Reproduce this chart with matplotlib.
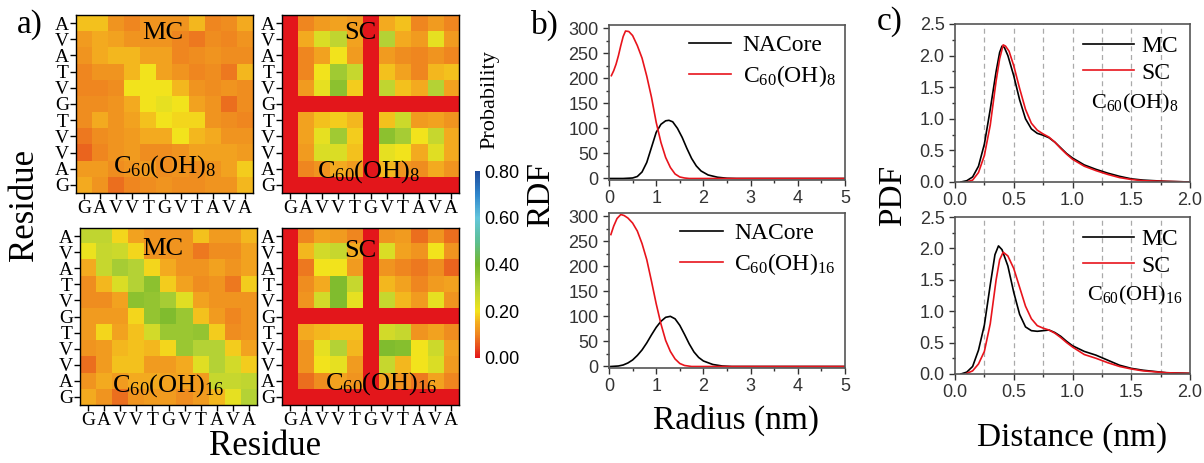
import numpy as np
import matplotlib
matplotlib.use("Agg")
import matplotlib.pyplot as plt
from matplotlib.colors import LinearSegmentedColormap
from matplotlib.ticker import MultipleLocator

plt.rcParams['font.family'] = ['Liberation Serif', 'DejaVu Serif']
plt.rcParams['mathtext.fontset'] = 'custom'
plt.rcParams['mathtext.rm'] = 'Liberation Serif'
plt.rcParams['mathtext.it'] = 'Liberation Serif:italic'
plt.rcParams['mathtext.default'] = 'rm'

# ---- data ----
residues_x = ['G', 'A', 'V', 'V', 'T', 'G', 'V', 'T', 'A', 'V', 'A']
residues_y = residues_x[::-1]   # rows listed top to bottom

# contact probability maps, rows from top (A) to bottom (G)
mc_oh8 = [
    [0.17, 0.17, 0.12, 0.10, 0.12, 0.12, 0.12, 0.16, 0.10, 0.11, 0.15],
    [0.13, 0.15, 0.14, 0.12, 0.12, 0.12, 0.10, 0.09, 0.11, 0.10, 0.12],
    [0.12, 0.15, 0.16, 0.16, 0.14, 0.14, 0.10, 0.11, 0.12, 0.11, 0.11],
    [0.10, 0.12, 0.12, 0.16, 0.20, 0.14, 0.12, 0.10, 0.11, 0.09, 0.16],
    [0.10, 0.10, 0.11, 0.20, 0.20, 0.20, 0.16, 0.12, 0.11, 0.12, 0.11],
    [0.11, 0.11, 0.12, 0.15, 0.20, 0.22, 0.20, 0.14, 0.12, 0.08, 0.11],
    [0.11, 0.15, 0.12, 0.14, 0.17, 0.20, 0.19, 0.19, 0.12, 0.11, 0.10],
    [0.09, 0.11, 0.12, 0.13, 0.15, 0.15, 0.20, 0.16, 0.15, 0.12, 0.12],
    [0.07, 0.10, 0.12, 0.13, 0.11, 0.11, 0.12, 0.14, 0.14, 0.14, 0.13],
    [0.13, 0.13, 0.11, 0.12, 0.13, 0.11, 0.12, 0.11, 0.12, 0.14, 0.18],
    [0.15, 0.12, 0.08, 0.10, 0.11, 0.12, 0.11, 0.11, 0.12, 0.12, 0.16],
]
sc_oh8 = [
    [0, 0.10, 0.13, 0.14, 0.13, 0, 0.15, 0.17, 0.10, 0.13, 0.10],
    [0, 0.15, 0.24, 0.28, 0.14, 0, 0.30, 0.15, 0.13, 0.22, 0.13],
    [0, 0.10, 0.14, 0.20, 0.13, 0, 0.13, 0.11, 0.10, 0.12, 0.10],
    [0, 0.10, 0.20, 0.33, 0.27, 0, 0.17, 0.14, 0.10, 0.16, 0.17],
    [0, 0.13, 0.22, 0.36, 0.18, 0, 0.28, 0.17, 0.15, 0.30, 0.14],
    [0, 0, 0, 0, 0, 0, 0, 0, 0, 0, 0],
    [0, 0.14, 0.17, 0.18, 0.16, 0, 0.17, 0.26, 0.13, 0.14, 0.12],
    [0, 0.14, 0.22, 0.33, 0.18, 0, 0.36, 0.32, 0.20, 0.27, 0.15],
    [0, 0.13, 0.24, 0.24, 0.17, 0, 0.22, 0.20, 0.15, 0.23, 0.15],
    [0, 0.10, 0.12, 0.15, 0.13, 0, 0.16, 0.12, 0.11, 0.15, 0.12],
    [0, 0, 0, 0, 0, 0, 0, 0, 0, 0, 0],
]
mc_oh16 = [
    [0.28, 0.28, 0.19, 0.14, 0.12, 0.12, 0.12, 0.17, 0.13, 0.13, 0.16],
    [0.21, 0.27, 0.26, 0.19, 0.12, 0.12, 0.12, 0.09, 0.11, 0.11, 0.14],
    [0.15, 0.27, 0.32, 0.30, 0.19, 0.15, 0.12, 0.12, 0.14, 0.12, 0.14],
    [0.11, 0.16, 0.24, 0.30, 0.36, 0.18, 0.14, 0.11, 0.12, 0.09, 0.18],
    [0.11, 0.11, 0.14, 0.36, 0.35, 0.32, 0.23, 0.14, 0.12, 0.12, 0.12],
    [0.13, 0.13, 0.13, 0.19, 0.35, 0.38, 0.34, 0.17, 0.13, 0.10, 0.12],
    [0.13, 0.19, 0.14, 0.17, 0.25, 0.34, 0.34, 0.35, 0.18, 0.11, 0.12],
    [0.12, 0.13, 0.16, 0.17, 0.16, 0.19, 0.34, 0.30, 0.30, 0.18, 0.14],
    [0.08, 0.13, 0.17, 0.17, 0.13, 0.13, 0.15, 0.23, 0.30, 0.25, 0.18],
    [0.12, 0.15, 0.13, 0.15, 0.15, 0.14, 0.14, 0.13, 0.27, 0.27, 0.28],
    [0.15, 0.12, 0.08, 0.12, 0.13, 0.13, 0.11, 0.13, 0.16, 0.22, 0.30],
]
sc_oh16 = [
    [0, 0.10, 0.14, 0.13, 0.10, 0, 0.12, 0.13, 0.08, 0.12, 0.08],
    [0, 0.16, 0.25, 0.27, 0.15, 0, 0.24, 0.14, 0.12, 0.20, 0.12],
    [0, 0.09, 0.20, 0.20, 0.13, 0, 0.12, 0.10, 0.09, 0.11, 0.07],
    [0, 0.11, 0.15, 0.38, 0.27, 0, 0.16, 0.14, 0.10, 0.13, 0.14],
    [0, 0.12, 0.25, 0.38, 0.22, 0, 0.27, 0.16, 0.13, 0.22, 0.12],
    [0, 0, 0, 0, 0, 0, 0, 0, 0, 0, 0],
    [0, 0.15, 0.16, 0.17, 0.17, 0, 0.25, 0.27, 0.12, 0.14, 0.11],
    [0, 0.12, 0.22, 0.30, 0.16, 0, 0.38, 0.37, 0.20, 0.26, 0.14],
    [0, 0.12, 0.20, 0.22, 0.13, 0, 0.27, 0.16, 0.20, 0.24, 0.13],
    [0, 0.08, 0.11, 0.14, 0.12, 0, 0.14, 0.12, 0.09, 0.14, 0.10],
    [0, 0, 0, 0, 0, 0, 0, 0, 0, 0, 0],
]

# RDF curves (radius nm, RDF)
rdf8_core_x = [0, 0.3, 0.5, 0.6, 0.7, 0.8, 0.9, 1.0, 1.1, 1.2, 1.27, 1.35, 1.45, 1.55, 1.65, 1.75, 1.85, 1.95, 2.1, 2.3, 2.5, 2.7, 3, 4, 5]
rdf8_core_y = [0, 0, 1, 4, 13, 32, 62, 92, 108, 115, 116, 113, 100, 82, 60, 40, 25, 15, 7, 2.5, 0.5, 0, 0, 0, 0]
rdf8_c60_x = [0.05, 0.1, 0.15, 0.2, 0.25, 0.3, 0.35, 0.42, 0.5, 0.6, 0.7, 0.8, 0.9, 1.0, 1.1, 1.2, 1.3, 1.4, 1.5, 1.6, 1.7, 2, 3, 4, 5]
rdf8_c60_y = [205, 215, 228, 245, 265, 283, 294, 293, 285, 265, 240, 204, 162, 112, 72, 42, 22, 9, 3, 1, 0, 0, 0, 0, 0]
rdf16_core_x = [0.04, 0.2, 0.3, 0.4, 0.5, 0.6, 0.7, 0.8, 0.9, 1.0, 1.1, 1.2, 1.3, 1.4, 1.5, 1.6, 1.7, 1.8, 1.9, 2.0, 2.2, 2.4, 2.6, 3, 4, 5]
rdf16_core_y = [0, 1, 3, 7, 13, 22, 33, 47, 63, 78, 90, 98, 100, 95, 82, 64, 45, 29, 18, 11, 4, 1, 0, 0, 0, 0]
rdf16_c60_x = [0.04, 0.1, 0.17, 0.25, 0.32, 0.4, 0.5, 0.6, 0.7, 0.8, 0.9, 1.0, 1.1, 1.2, 1.3, 1.4, 1.5, 1.6, 1.75, 2, 3, 4, 5]
rdf16_c60_y = [263, 280, 295, 303, 301, 296, 286, 270, 245, 213, 170, 125, 85, 52, 30, 15, 6, 2, 0, 0, 0, 0, 0]

# PDF curves (distance nm, PDF)
pdf8_mc_x = [0.05, 0.1, 0.15, 0.2, 0.25, 0.3, 0.35, 0.38, 0.40, 0.42, 0.45, 0.5, 0.55, 0.6, 0.65, 0.7, 0.75, 0.8, 0.85, 0.9, 0.95, 1.0, 1.1, 1.2, 1.3, 1.4, 1.5, 1.6, 1.7, 1.8, 2.0]
pdf8_mc_y = [0, 0.02, 0.08, 0.25, 0.6, 1.15, 1.75, 2.05, 2.15, 2.13, 2.0, 1.68, 1.3, 1.0, 0.84, 0.77, 0.74, 0.70, 0.63, 0.54, 0.45, 0.38, 0.27, 0.2, 0.14, 0.09, 0.05, 0.03, 0.02, 0.01, 0]
pdf8_sc_x = [0.1, 0.15, 0.2, 0.25, 0.3, 0.35, 0.38, 0.41, 0.43, 0.46, 0.5, 0.55, 0.6, 0.65, 0.7, 0.75, 0.8, 0.85, 0.9, 0.95, 1.0, 1.1, 1.2, 1.3, 1.4, 1.5, 1.6, 1.8, 2.0]
pdf8_sc_y = [0, 0.03, 0.15, 0.42, 0.9, 1.6, 1.95, 2.17, 2.15, 2.07, 1.84, 1.48, 1.15, 0.93, 0.82, 0.76, 0.71, 0.63, 0.53, 0.44, 0.36, 0.25, 0.18, 0.12, 0.07, 0.04, 0.02, 0.01, 0]
pdf16_mc_x = [0.05, 0.1, 0.15, 0.2, 0.25, 0.3, 0.34, 0.37, 0.40, 0.45, 0.5, 0.55, 0.6, 0.65, 0.7, 0.75, 0.8, 0.85, 0.9, 0.95, 1.0, 1.1, 1.2, 1.3, 1.4, 1.5, 1.6, 1.7, 1.8, 2.0]
pdf16_mc_y = [0, 0.03, 0.12, 0.38, 0.78, 1.42, 1.9, 2.04, 1.98, 1.72, 1.3, 0.95, 0.75, 0.69, 0.68, 0.69, 0.70, 0.66, 0.60, 0.52, 0.45, 0.36, 0.30, 0.22, 0.14, 0.09, 0.06, 0.04, 0.02, 0.01]
pdf16_sc_x = [0.1, 0.15, 0.2, 0.25, 0.3, 0.35, 0.38, 0.41, 0.45, 0.5, 0.55, 0.6, 0.65, 0.7, 0.75, 0.8, 0.85, 0.9, 0.95, 1.0, 1.1, 1.2, 1.3, 1.4, 1.5, 1.6, 1.8, 2.0]
pdf16_sc_y = [0.01, 0.05, 0.16, 0.36, 0.8, 1.5, 1.82, 1.94, 1.88, 1.68, 1.38, 1.08, 0.88, 0.77, 0.73, 0.70, 0.65, 0.58, 0.50, 0.43, 0.31, 0.25, 0.18, 0.12, 0.08, 0.05, 0.02, 0.01]

cb_ticks = [0.0, 0.2, 0.4, 0.6, 0.8]

# ---- figure ----
W, H = 1204, 463
fig = plt.figure(figsize=(W / 100, H / 100), dpi=100)


def px_axes(x0, y0, x1, y1):
    # axes from pixel box (top-left origin)
    return fig.add_axes([x0 / W, 1 - y1 / H, (x1 - x0) / W, (y1 - y0) / H])


cmap = LinearSegmentedColormap.from_list('prob', [
    (0.0, '#e3161b'), (0.0625, '#e8501d'), (0.125, '#ef8620'),
    (0.1875, '#f4ac1f'), (0.25, '#f3e41c'),
    (0.375, '#b3d236'), (0.5, '#74b72c'), (0.625, '#5cbf94'),
    (0.75, '#64c6dc'), (0.875, '#2f86cc'), (1.0, '#1f4c9c')])

maps = [
    (mc_oh8, (76, 15, 253, 193), 'MC', 'C$_{60}$(OH)$_8$', (0.49, 0.9), (0.5, 0.15)),
    (sc_oh8, (282, 15, 459, 193), 'SC', 'C$_{60}$(OH)$_8$', (0.44, 0.9), (0.49, 0.12)),
    (mc_oh16, (80, 228, 257, 405), 'MC', 'C$_{60}$(OH)$_{16}$', (0.47, 0.88), (0.5, 0.11)),
    (sc_oh16, (282, 228, 459, 405), 'SC', 'C$_{60}$(OH)$_{16}$', (0.44, 0.87), (0.56, 0.12)),
]
for mat, box, lab, mol, lpos, mpos in maps:
    ax = px_axes(*box)
    im = ax.imshow(np.array(mat), cmap=cmap, vmin=0, vmax=0.8, aspect='auto')
    ax.set_xticks(range(11))
    ax.set_xticklabels(residues_x)
    ax.set_yticks(range(11))
    ax.set_yticklabels(residues_y)
    ax.tick_params(labelsize=14, length=4, width=1, pad=1)
    for s in ax.spines.values():
        s.set_linewidth(1.0)
    ax.text(*lpos, lab, transform=ax.transAxes, ha='center', va='center', fontsize=19)
    ax.text(*mpos, mol, transform=ax.transAxes, ha='center', va='center', fontsize=19)

cax = px_axes(475, 171, 480, 358)
cb = fig.colorbar(im, cax=cax, ticks=cb_ticks)
cb.outline.set_visible(False)
cb.ax.set_yticklabels([f'{t:.2f}' for t in cb_ticks])
cb.ax.tick_params(length=0, labelsize=13, pad=3)
for t in cb.ax.get_yticklabels():
    t.set_family('Liberation Sans')
fig.text(490 / W, 1 - 100 / H, 'Probability', rotation=90, ha='center', va='center', fontsize=16)


def style_line_axes(ax):
    ax.tick_params(which='both', direction='out', labelsize=13, colors='#333333')
    ax.tick_params(which='major', length=4, width=1)
    ax.tick_params(which='minor', length=2.5, width=1)
    for t in ax.get_xticklabels() + ax.get_yticklabels():
        t.set_family('Liberation Sans')
    for s in ax.spines.values():
        s.set_color('#555555')
        s.set_linewidth(1.2)


rdf_sets = [
    ((609, 25, 845, 180), rdf8_core_x, rdf8_core_y, rdf8_c60_x, rdf8_c60_y, 'C$_{60}$(OH)$_8$'),
    ((609, 213, 845, 368), rdf16_core_x, rdf16_core_y, rdf16_c60_x, rdf16_c60_y, 'C$_{60}$(OH)$_{16}$'),
]
for box, cx, cy, rx, ry, mol in rdf_sets:
    ax = px_axes(*box)
    ax.plot(cx, cy, color='black', lw=1.2, label='NACore')
    ax.plot(rx, ry, color='#e8141c', lw=1.2, label=mol)
    ax.set_xlim(0, 5)
    ax.set_ylim(-3, 306)
    ax.xaxis.set_major_locator(MultipleLocator(1))
    ax.xaxis.set_minor_locator(MultipleLocator(0.5))
    ax.yaxis.set_major_locator(MultipleLocator(50))
    ax.yaxis.set_minor_locator(MultipleLocator(25))
    style_line_axes(ax)
    ax.legend(loc='upper right', frameon=False, fontsize=17, handlelength=1.8,
              labelspacing=0.3, borderaxespad=0.0, handletextpad=0.5)

pdf_sets = [
    ((955, 24, 1190, 182), pdf8_mc_x, pdf8_mc_y, pdf8_sc_x, pdf8_sc_y, 'C$_{60}$(OH)$_8$'),
    ((955, 217, 1190, 374), pdf16_mc_x, pdf16_mc_y, pdf16_sc_x, pdf16_sc_y, 'C$_{60}$(OH)$_{16}$'),
]
for box, mx, my, sx, sy, mol in pdf_sets:
    ax = px_axes(*box)
    for g in [0.25, 0.5, 0.75, 1.0, 1.25, 1.5, 1.75]:
        ax.axvline(g, color='#aaaaaa', lw=0.9, ls=(0, (4, 3)), zorder=0)
    ax.plot(mx, my, color='black', lw=1.2, label='MC')
    ax.plot(sx, sy, color='#e8141c', lw=1.2, label='SC')
    ax.set_xlim(0, 2)
    ax.set_ylim(0, 2.5)
    ax.xaxis.set_major_locator(MultipleLocator(0.5))
    ax.xaxis.set_minor_locator(MultipleLocator(0.25))
    ax.yaxis.set_major_locator(MultipleLocator(0.5))
    ax.yaxis.set_minor_locator(MultipleLocator(0.25))
    ax.xaxis.set_major_formatter(lambda v, p: f'{v:.1f}')
    ax.yaxis.set_major_formatter(lambda v, p: f'{v:.1f}')
    style_line_axes(ax)
    ax.legend(loc='upper right', frameon=False, fontsize=17, handlelength=2.2,
              labelspacing=0.2, borderaxespad=0.1, handletextpad=0.3)
    ax.text(0.765, 0.5, mol, transform=ax.transAxes, ha='center', va='center', fontsize=16)

# labels
fig.text(30 / W, 1 - 25 / H, 'a)', ha='center', va='center', fontsize=24)
fig.text(545 / W, 1 - 25 / H, 'b)', ha='center', va='center', fontsize=24)
fig.text(890 / W, 1 - 22 / H, 'c)', ha='center', va='center', fontsize=24)
fig.text(25 / W, 1 - 205 / H, 'Residue', rotation=90, ha='center', va='center', fontsize=25)
fig.text(265 / W, 1 - 455 / H, 'Residue', ha='center', va='baseline', fontsize=25)
fig.text(541 / W, 1 - 195 / H, 'RDF', rotation=90, ha='center', va='center', fontsize=24)
fig.text(893 / W, 1 - 195 / H, 'PDF', rotation=90, ha='center', va='center', fontsize=24)
fig.text(736 / W, 1 - 420 / H, 'Radius (nm)', ha='center', va='center', fontsize=24)
fig.text(1072 / W, 1 - 438 / H, 'Distance (nm)', ha='center', va='center', fontsize=24)

fig.savefig('out.png', dpi=100)
